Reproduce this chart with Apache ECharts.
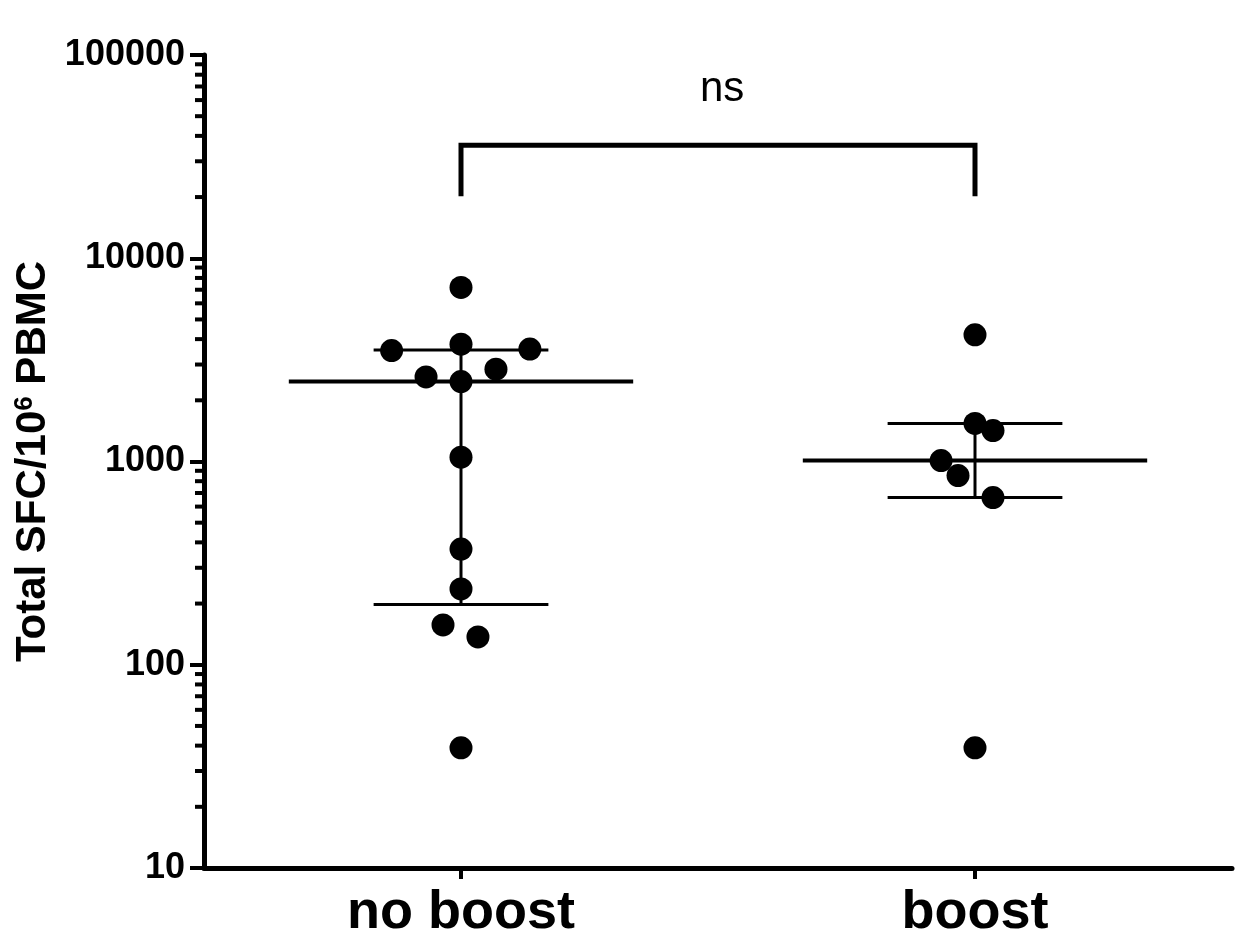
<!DOCTYPE html>
<html>
<head>
<meta charset="utf-8">
<title>Total SFC</title>
<script src="https://cdn.jsdelivr.net/npm/echarts@6/dist/echarts.min.js"></script>
<style>
html, body { margin: 0; padding: 0; background: #fff; }
#chart { width: 1239px; height: 936px; }
</style>
</head>
<body>
<div id="chart"></div>
<script>
// groups on the x axis (1 = no boost, 2 = boost)
var categories = ['no boost', 'boost'];

// individual donors
var noBoostValues = [7180, 3515, 3775, 3575, 2605, 2845, 2472, 1050, 371, 236, 157, 137, 39];
var noBoostJitter = [0, -0.135, 0, 0.134, -0.068, 0.068, 0, 0, 0, 0, -0.035, 0.033, 0];
var boostValues = [4200, 1540, 1420, 1010, 853, 665, 39];
var boostJitter = [0, 0, 0.035, -0.066, -0.033, 0.035, 0];

// median with interquartile range: [q1, median, q3]
var noBoostSummary = [198, 2472, 3540];
var boostSummary = [665, 1010, 1540];

// significance bracket
var bracketLow = 20200;
var bracketHigh = 36000;
var bracketLabel = 'ns';

// minor ticks of the log axis
var minorTicks = [20, 30, 40, 50, 60, 70, 80, 90,
                  200, 300, 400, 500, 600, 700, 800, 900,
                  2000, 3000, 4000, 5000, 6000, 7000, 8000, 9000,
                  20000, 30000, 40000, 50000, 60000, 70000, 80000, 90000];

var FONT = '"Liberation Sans", Arial, Helvetica, sans-serif';

function points(cat, values, jitter) {
    return values.map(function (v, i) { return [cat + jitter[i], v]; });
}

var chart = echarts.init(document.getElementById('chart'));

var option = {
    backgroundColor: '#fff',
    animation: false,
    grid: { left: 204, right: 7, top: 55, bottom: 68, outerBoundsMode: 'none', containLabel: false },
    xAxis: {
        type: 'value',
        min: 0.5,
        max: 2.5,
        splitLine: { show: false },
        axisLine: { lineStyle: { color: '#000', width: 5 } },
        axisTick: { customValues: [1, 2], length: 11, lineStyle: { color: '#000', width: 4 } },
        axisLabel: {
            customValues: [1, 2],
            margin: 18,
            color: '#000',
            fontFamily: FONT,
            fontWeight: 'bold',
            fontSize: 54,
            formatter: function (v) { return categories[Math.round(v) - 1]; }
        }
    },
    yAxis: {
        type: 'log',
        logBase: 10,
        min: 10,
        max: 100000,
        splitLine: { show: false },
        axisLine: { lineStyle: { color: '#000', width: 5 } },
        axisTick: { length: 14, lineStyle: { color: '#000', width: 4 } },
        axisLabel: {
            margin: 19,
            color: '#000',
            fontFamily: FONT,
            fontWeight: 'bold',
            fontSize: 36,
            formatter: function (v) { return String(v); }
        },
        name: '{a|Total SFC/10}{s|6}{a| PBMC}',
        nameLocation: 'middle',
        nameGap: 147,
        nameTextStyle: {
            rich: {
                a: { fontFamily: FONT, fontWeight: 'bold', fontSize: 42, color: '#000' },
                s: { fontFamily: FONT, fontWeight: 'bold', fontSize: 26, color: '#000',
                     verticalAlign: 'bottom', padding: [0, 0, 16, 0] }
            }
        }
    },
    graphic: [{
        type: 'text',
        left: 700,
        top: 68,
        style: { text: bracketLabel, font: '42px ' + FONT, fill: '#000' }
    }],
    series: [
        {
            // minor ticks of the log axis
            type: 'custom',
            clip: false,
            silent: true,
            data: minorTicks,
            encode: { y: 0 },
            renderItem: function (params, api) {
                var p = api.coord([0.5, api.value(0)]);
                return {
                    type: 'line',
                    shape: { x1: p[0] - 9, y1: p[1], x2: p[0], y2: p[1] },
                    style: { stroke: '#000', lineWidth: 4 }
                };
            }
        },
        {
            // median and interquartile range
            type: 'custom',
            silent: true,
            data: [[1].concat(noBoostSummary), [2].concat(boostSummary)],
            encode: { x: 0, y: [1, 2, 3] },
            renderItem: function (params, api) {
                var x = api.value(0);
                var q1 = api.value(1), med = api.value(2), q3 = api.value(3);
                var mL = api.coord([x - 0.335, med]), mR = api.coord([x + 0.335, med]);
                var uL = api.coord([x - 0.17, q3]), uR = api.coord([x + 0.17, q3]);
                var lL = api.coord([x - 0.17, q1]), lR = api.coord([x + 0.17, q1]);
                var top = api.coord([x, q3]), bot = api.coord([x, q1]);
                var thin = { stroke: '#000', lineWidth: 3 };
                return {
                    type: 'group',
                    children: [
                        { type: 'line', shape: { x1: top[0], y1: top[1], x2: bot[0], y2: bot[1] }, style: thin },
                        { type: 'line', shape: { x1: uL[0], y1: uL[1], x2: uR[0], y2: uR[1] }, style: thin },
                        { type: 'line', shape: { x1: lL[0], y1: lL[1], x2: lR[0], y2: lR[1] }, style: thin },
                        { type: 'line', shape: { x1: mL[0], y1: mL[1], x2: mR[0], y2: mR[1] },
                          style: { stroke: '#000', lineWidth: 4 } }
                    ]
                };
            }
        },
        {
            type: 'scatter',
            symbol: 'circle',
            symbolSize: 23,
            itemStyle: { color: '#000', opacity: 1 },
            data: points(1, noBoostValues, noBoostJitter)
        },
        {
            type: 'scatter',
            symbol: 'circle',
            symbolSize: 23,
            itemStyle: { color: '#000', opacity: 1 },
            data: points(2, boostValues, boostJitter)
        },
        {
            type: 'line',
            symbol: 'none',
            silent: true,
            lineStyle: { color: '#000', width: 5, join: 'miter' },
            data: [[1, bracketLow], [1, bracketHigh], [2, bracketHigh], [2, bracketLow]]
        }
    ]
};

chart.setOption(option);
</script>
</body>
</html>
